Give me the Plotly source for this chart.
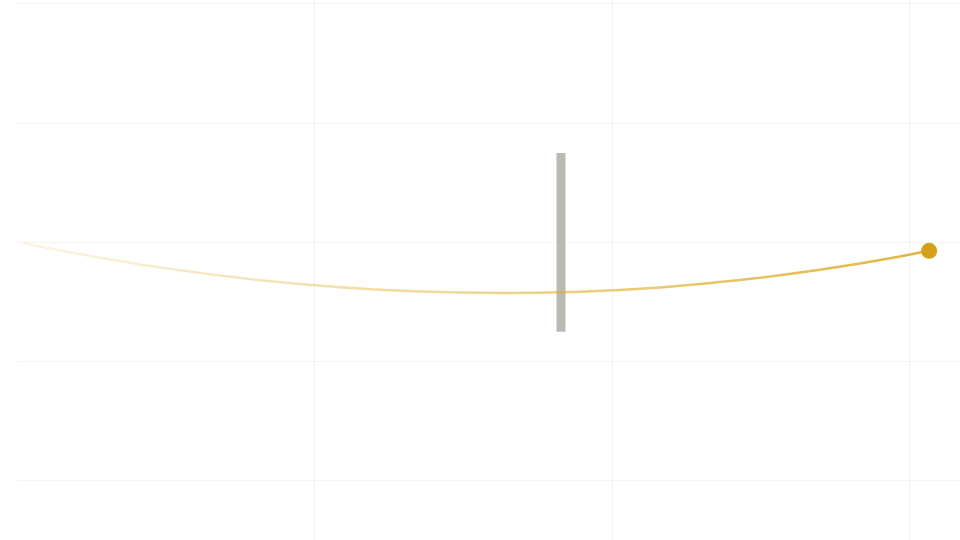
import plotly.graph_objects as go

# Trail of the moving point
trail_x = [0.020, 0.144, 0.279, 0.413, 0.548, 0.682, 0.817, 0.951, 1.085, 1.220,
           1.354, 1.489, 1.640, 1.757, 1.892, 2.026, 2.161, 2.295, 2.429, 2.564,
           2.698, 2.833, 2.967, 3.065]
trail_y = [-0.006, -0.068, -0.129, -0.185, -0.235, -0.279, -0.317, -0.349, -0.376, -0.397,
           -0.412, -0.421, -0.425, -0.423, -0.414, -0.399, -0.378, -0.350, -0.316, -0.276,
           -0.230, -0.177, -0.118, -0.071]

# Current position
head_x = [3.065]
head_y = [-0.071]

# Vertical barrier
bar_x = [1.828, 1.828]
bar_y = [-0.75, 0.75]

fig = go.Figure()

fig.add_trace(go.Scatter(
    x=bar_x, y=bar_y, mode="lines",
    line=dict(color="rgb(186,185,178)", width=9),
    hoverinfo="skip", showlegend=False))

n = len(trail_x)
for i in range(n - 1):
    a = 0.14 + 0.74 * (i / (n - 2))
    fig.add_trace(go.Scatter(
        x=trail_x[i:i + 2], y=trail_y[i:i + 2], mode="lines",
        line=dict(color=f"rgba(222,172,40,{a:.3f})", width=2.5),
        hoverinfo="skip", showlegend=False))

fig.add_trace(go.Scatter(
    x=head_x, y=head_y, mode="markers",
    marker=dict(color="rgb(212,160,24)", size=16),
    showlegend=False))

fig.update_layout(
    width=960, height=540,
    margin=dict(l=17, r=0, t=0, b=0),
    paper_bgcolor="white", plot_bgcolor="white",
    xaxis=dict(range=[0, 3.1687], tickvals=[0, 1, 2, 3], showticklabels=False,
               showgrid=True, gridcolor="rgb(243,243,243)", gridwidth=1,
               zeroline=False, showline=False, ticks=""),
    yaxis=dict(range=[-2.496, 2.032], tickvals=[-2, -1, 0, 1, 2], showticklabels=False,
               showgrid=True, gridcolor="rgb(243,243,243)", gridwidth=1,
               zeroline=False, showline=False, ticks=""),
)

fig.write_html("out.html",
               config={"displayModeBar": False},
               post_script="document.body.style.margin='0';document.body.style.overflow='hidden';")
